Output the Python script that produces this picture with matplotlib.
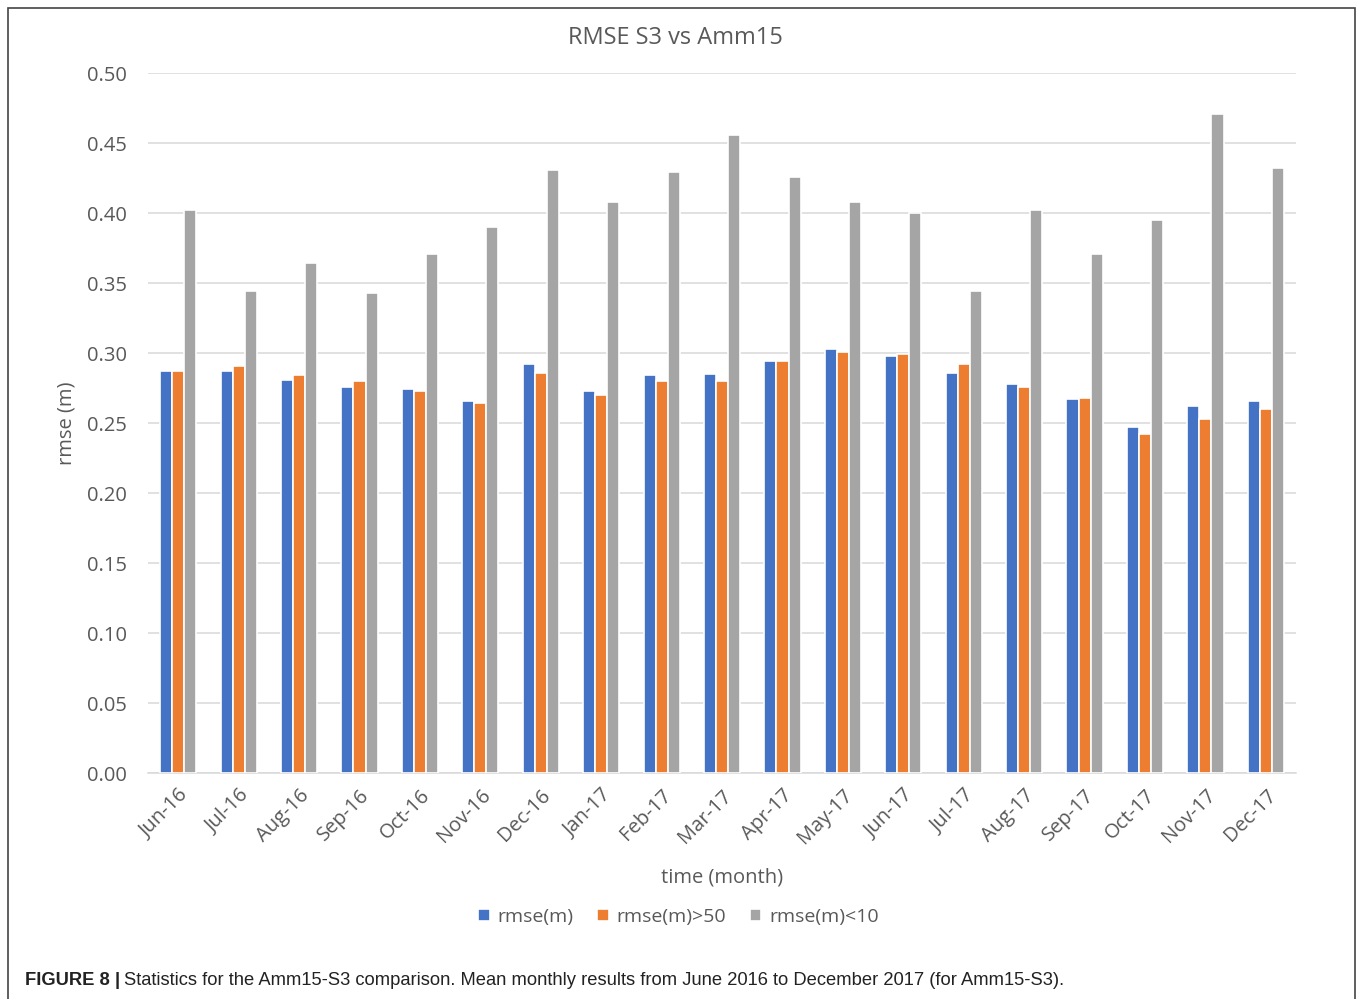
import numpy as np
import matplotlib
matplotlib.use("Agg")
import matplotlib.pyplot as plt
from matplotlib.patches import Rectangle

plt.rcParams['font.family'] = ['Open Sans', 'DejaVu Sans']

months = ["Jun-16", "Jul-16", "Aug-16", "Sep-16", "Oct-16", "Nov-16", "Dec-16",
          "Jan-17", "Feb-17", "Mar-17", "Apr-17", "May-17", "Jun-17", "Jul-17",
          "Aug-17", "Sep-17", "Oct-17", "Nov-17", "Dec-17"]
rmse_all = [0.287, 0.287, 0.281, 0.276, 0.274, 0.266, 0.292, 0.273, 0.284, 0.285,
            0.294, 0.303, 0.298, 0.286, 0.278, 0.267, 0.247, 0.262, 0.266]
rmse_gt50 = [0.287, 0.291, 0.284, 0.280, 0.273, 0.264, 0.286, 0.270, 0.280, 0.280,
             0.294, 0.301, 0.299, 0.292, 0.276, 0.268, 0.242, 0.253, 0.260]
rmse_lt10 = [0.402, 0.344, 0.364, 0.343, 0.371, 0.390, 0.431, 0.408, 0.429, 0.456,
             0.426, 0.408, 0.400, 0.344, 0.402, 0.371, 0.395, 0.471, 0.432]
series_names = ["rmse(m)", "rmse(m)>50", "rmse(m)<10"]
colors = ["#4472C4", "#ED7D31", "#A5A5A5"]
txt = "#595959"

fig = plt.figure(figsize=(13.57, 9.99), dpi=100)
ax = fig.add_axes([0.1091, 0.2262, 0.8460, 0.7007])

x = np.arange(len(months))
w = 0.2
for i, (vals, name, c) in enumerate(zip([rmse_all, rmse_gt50, rmse_lt10], series_names, colors)):
    ax.bar(x + (i - 1) * w, vals, width=w, color=c, edgecolor="white", linewidth=1.2,
           label=name, zorder=3)

ax.set_xlim(-0.5, len(months) - 0.5)
ax.set_ylim(0, 0.5)
ax.set_yticks(np.arange(0, 0.501, 0.05))
ax.set_yticklabels([f"{v:.2f}" for v in np.arange(0, 0.501, 0.05)])
ax.yaxis.grid(True, color="#D9D9D9", linewidth=1.1, zorder=0)
for s in ["top", "right", "left"]:
    ax.spines[s].set_visible(False)
ax.spines["bottom"].set_color("#D9D9D9")
ax.spines["bottom"].set_linewidth(1.1)
ax.tick_params(axis="both", length=0, colors=txt, labelsize=14.5)
ax.tick_params(axis="y", pad=15)
ax.set_xticks(x)
ax.set_xticklabels(months, rotation=45, ha="right", rotation_mode="anchor")
ax.tick_params(axis="x", pad=9)

ax.set_xlabel("time (month)", color=txt, fontsize=14.5, labelpad=14)
ax.set_ylabel("rmse (m)", color=txt, fontsize=14.5, labelpad=8)

fig.text(0.498, 0.962, "RMSE S3 vs Amm15", ha="center", va="center", color=txt, fontsize=17)

leg = fig.legend(loc="center", bbox_to_anchor=(0.5, 0.082), ncol=3, frameon=False,
                 fontsize=14, handlelength=0.6, handleheight=0.6, handletextpad=0.4,
                 columnspacing=1.2)
for t in leg.get_texts():
    t.set_color(txt)

fig.patches.append(Rectangle((8 / 1357, -0.01), 1347 / 1357, 1 - 8 / 999 + 0.01,
                             transform=fig.transFigure, fill=False,
                             edgecolor="#444444", linewidth=1.2))

fig.text(25 / 1357, 0.019, "FIGURE 8 |", fontsize=13.2, fontweight="bold",
         family="Liberation Sans", va="center", color="#222222")
fig.text(124 / 1357, 0.019,
         "Statistics for the Amm15-S3 comparison. Mean monthly results from June 2016 to December 2017 (for Amm15-S3).",
         fontsize=13.2, family="Liberation Sans", va="center", color="#222222")

fig.savefig("out.png", dpi=100)
